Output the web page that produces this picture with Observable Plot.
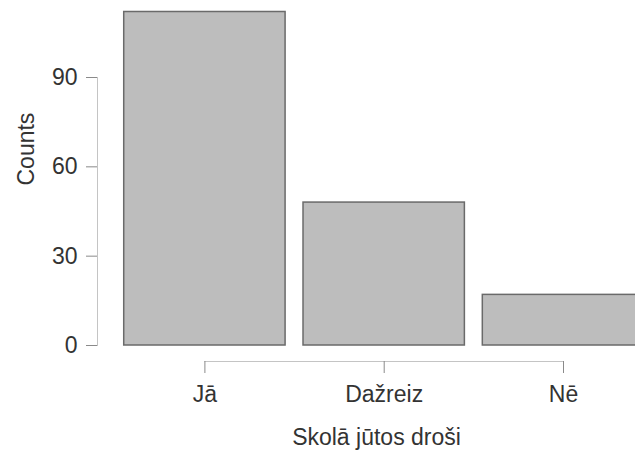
<!DOCTYPE html>
<html>
<head>
<meta charset="utf-8">
<script src="https://cdn.jsdelivr.net/npm/d3@7"></script>
<script src="https://cdn.jsdelivr.net/npm/@observablehq/plot@0.6"></script>
<style>
  html, body { margin: 0; padding: 0; background: #fff; overflow: hidden; }
  #chart svg { display: block; overflow: hidden; }
</style>
</head>
<body>
<div id="chart"></div>
<script>
const categories = ["Jā", "Dažreiz", "Nē"];
const counts = [112, 48, 17];
const yTicks = [0, 30, 60, 90];
const xTitle = "Skolā jūtos droši";
const yTitle = "Counts";

const table = categories.map((c, i) => ({cat: c, i, n: counts[i]}));
const idx = categories.map((c, i) => i);

const font = "Liberation Sans, Arial, Helvetica, sans-serif";
const textColor = "#333";

const chart = Plot.plot({
  width: 635,
  height: 454,
  marginLeft: 97,
  marginRight: 0,
  marginTop: 77,
  marginBottom: 109,
  style: {fontFamily: font, fontSize: "23px", color: textColor, background: "#fff"},
  x: {type: "linear", domain: [0, categories.length - 1], range: [204.4, 563], axis: null},
  y: {domain: [0, 90], axis: null},
  marks: [
    Plot.rectY(table, {
      x1: d => d.i - 0.45,
      x2: d => d.i + 0.45,
      y1: 0,
      y2: "n",
      fill: "#bdbdbd",
      stroke: "#6a6a6a",
      strokeWidth: 1.5
    }),
    Plot.frame({anchor: "left", stroke: "#c4c4c4", strokeWidth: 1}),
    Plot.axisY({
      ticks: yTicks,
      tickSize: 11,
      tickPadding: 9,
      stroke: "#8a8a8a",
      fill: textColor,
      fontSize: 23,
      label: null
    }),
    Plot.ruleY([0], {x1: 0, x2: categories.length - 1, dy: 16, stroke: "#c4c4c4", strokeWidth: 1}),
    Plot.axisX({
      ticks: idx,
      tickFormat: i => categories[i],
      tickSize: 12,
      tickPadding: 12,
      dy: 16,
      stroke: "#8a8a8a",
      fill: textColor,
      fontSize: 23,
      label: null
    }),
    Plot.text([xTitle], {
      frameAnchor: "bottom",
      dx: 10,
      dy: 99,
      lineAnchor: "bottom",
      fontSize: 23,
      fill: textColor
    }),
    Plot.text([yTitle], {
      frameAnchor: "left",
      rotate: -90,
      dx: -71,
      dy: -26,
      fontSize: 23,
      fill: textColor
    })
  ]
});

document.getElementById("chart").appendChild(chart);
</script>
</body>
</html>
